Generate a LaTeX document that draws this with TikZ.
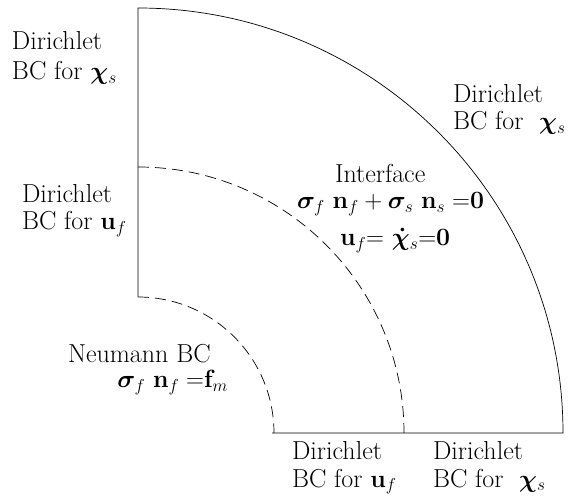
\documentclass[tikz,border=0pt]{standalone}
\usepackage{amsmath,bm}
\begin{document}
\begin{tikzpicture}[x=1pt,y=1pt,
  lbl/.style={inner sep=0pt, outer sep=0pt, anchor=base west, font=\fontsize{26}{31}\selectfont},
  lblr/.style={lbl, anchor=base east},
  bnd/.style={line width=0.7pt},
  ifc/.style={line width=0.7pt, dash pattern=on 11pt off 6pt}]
\useasboundingbox (0,0) rectangle (571,496);
% boundaries
\draw[bnd] (272,63) -- (563,63) arc[start angle=0, end angle=90, radius=425] -- (138,199);
\draw[ifc] (138,199) arc[start angle=90, end angle=0, radius=136];
\draw[ifc] (138,329) arc[start angle=90, end angle=0, radius=266];
% labels
\node[lbl] (tl1) at (12,446) {Dirichlet};
\node[lbl] (tl2) at (12,416) {BC for $\bm{\chi}_s$};
\node[lbl] (tr1) at (453,393) {Dirichlet};
\node[lbl] (tr2) at (453,366) {BC for \ $\bm{\chi}_s$};
\node[lbl] (ml1) at (22,293) {Dirichlet};
\node[lbl] (ml2) at (22,266) {BC for $\mathbf{u}_f$};
\node[lbl] (if1) at (335,313) {Interface};
\node[lbl] (if2) at (297,287) {$\bm{\sigma}_f\ \mathbf{n}_f+\bm{\sigma}_s\ \mathbf{n}_s\;{=}\mathbf{0}$};
\node[lbl] (if3) at (340,250) {$\mathbf{u}_f{=}\ \bm{\dot{\chi}}_s{=}\mathbf{0}$};
\node[lbl] (nm1) at (68,133) {Neumann BC};
\node[lblr] (nm2) at (228,108) {$\bm{\sigma}_f\ \mathbf{n}_f\;{=}\mathbf{f}_m$};
\node[lbl] (bl1) at (292,37) {Dirichlet};
\node[lbl] (bl2) at (292,9) {BC for $\mathbf{u}_f$};
\node[lbl] (br1) at (433,37) {Dirichlet};
\node[lbl] (br2) at (433,9) {BC for \ $\bm{\chi}_s$};
\end{tikzpicture}
\end{document}
